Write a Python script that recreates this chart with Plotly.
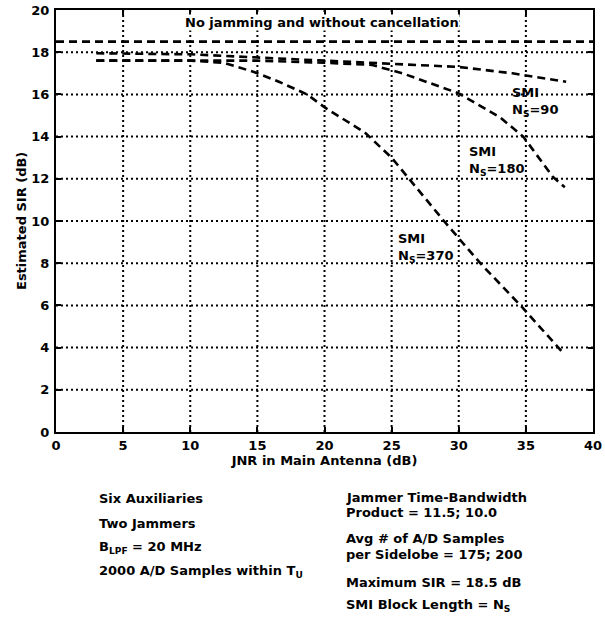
import plotly.graph_objects as go

# JNR in main antenna (dB) and estimated SIR (dB) for each curve
jnr_nojam = [0, 40]
sir_nojam = [18.5, 18.5]

jnr_ns90 = [3, 10, 15, 20, 25, 30, 34, 38]
sir_ns90 = [17.95, 17.9, 17.75, 17.6, 17.45, 17.3, 17.0, 16.6]

jnr_ns180 = [3, 10, 15, 20, 23.5, 25.8, 30, 33.1, 34.8, 37, 37.9]
sir_ns180 = [17.6, 17.6, 17.6, 17.5, 17.4, 17.0, 16.05, 14.9, 14.0, 12.1, 11.6]

jnr_ns370 = [3, 10, 12.5, 14.8, 16.6, 18.7, 20.2, 23, 25, 28.9, 31.6, 34.6, 37.7]
sir_ns370 = [17.6, 17.6, 17.5, 17.05, 16.6, 16.0, 15.3, 14.2, 13.0, 10.0, 8.0, 6.0, 3.8]

x_ticks = [0, 5, 10, 15, 20, 25, 30, 35, 40]
y_ticks = [0, 2, 4, 6, 8, 10, 12, 14, 16, 18, 20]

FONT = "DejaVu Sans"
BOLD = dict(family=FONT, size=13, color="black", weight="bold")
line_style = dict(color="black", width=2.6, dash="8px,5px")

fig = go.Figure()

# Dotted grid drawn as shapes at each tick value
grid_line = dict(color="black", width=2, dash="2px,3px")
for v in x_ticks[1:-1]:
    fig.add_shape(type="line", xref="x", yref="y", x0=v, x1=v,
                  y0=y_ticks[0], y1=y_ticks[-1], line=grid_line, layer="below")
for v in y_ticks[1:-1]:
    fig.add_shape(type="line", xref="x", yref="y", y0=v, y1=v,
                  x0=x_ticks[0], x1=x_ticks[-1], line=grid_line, layer="below")

for xs, ys in [(jnr_nojam, sir_nojam), (jnr_ns90, sir_ns90),
               (jnr_ns180, sir_ns180), (jnr_ns370, sir_ns370)]:
    fig.add_trace(go.Scatter(x=xs, y=ys, mode="lines", line=line_style,
                             showlegend=False, hoverinfo="skip"))

axis_common = dict(
    showline=True, linecolor="black", linewidth=2, mirror="ticks",
    ticks="inside", ticklen=5, tickwidth=1.5, tickcolor="black",
    showgrid=False, zeroline=False, automargin=False,
    tickfont=dict(family=FONT, size=13, color="black", weight="bold"),
)

fig.update_xaxes(range=[0, 40], tickvals=x_ticks, ticktext=[str(v) for v in x_ticks],
                 title=dict(text="JNR in Main Antenna (dB)", font=BOLD, standoff=1),
                 **axis_common)
fig.update_yaxes(range=[0, 20], tickvals=y_ticks, ticktext=[str(v) for v in y_ticks],
                 ticklabelstandoff=2, **axis_common)

# Pixel positions converted to paper coordinates
L, R, T, B = 56, 593, 10, 432
def px(x):
    return (x - L) / (R - L)
def py(y):
    return (B - y) / (B - T)

fig.add_annotation(x=px(21), y=0.5, xref="paper", yref="paper",
                   text="Estimated SIR (dB)", textangle=-90, showarrow=False,
                   xanchor="center", yanchor="middle", font=BOLD)

# Curve labels inside the plot
fig.add_annotation(x=19.8, y=19.4, xref="x", yref="y",
                   text="No jamming and without cancellation", showarrow=False,
                   xanchor="center", bgcolor="white", borderpad=0, font=BOLD)
curve_labels = [
    (33.8, 16.55, "SMI<br>N<sub>S</sub>=90"),
    (30.6, 13.75, "SMI<br>N<sub>S</sub>=180"),
    (25.3, 9.6, "SMI<br>N<sub>S</sub>=370"),
]
for x, y, t in curve_labels:
    fig.add_annotation(x=x, y=y, xref="x", yref="y", text=t, showarrow=False,
                       xanchor="left", yanchor="top", align="left", font=BOLD)

# Simulation parameters listed below the plot
left_notes = [
    (498, "Six Auxiliaries"),
    (523, "Two Jammers"),
    (547, "B<sub>LPF</sub> = 20 MHz"),
    (571, "2000 A/D Samples within T<sub>U</sub>"),
]
right_notes = [
    (497, "Jammer Time-Bandwidth"),
    (512, "Product = 11.5; 10.0"),
    (538, "Avg # of A/D Samples"),
    (554, "per Sidelobe = 175; 200"),
    (582, "Maximum SIR = 18.5 dB"),
    (605, "SMI Block Length = N<sub>S</sub>"),
]
for col_x, notes in [(98, left_notes), (345, right_notes)]:
    for yy, t in notes:
        fig.add_annotation(x=px(col_x), y=py(yy), xref="paper", yref="paper", text=t,
                           showarrow=False, xanchor="left", yanchor="middle",
                           align="left", borderpad=0, font=BOLD)

fig.update_layout(
    width=605, height=620,
    margin=dict(l=L, r=605 - R, t=T, b=620 - B),
    paper_bgcolor="white", plot_bgcolor="white",
    font=dict(family=FONT, size=13, color="black"),
)

fig.write_html("out.html")
